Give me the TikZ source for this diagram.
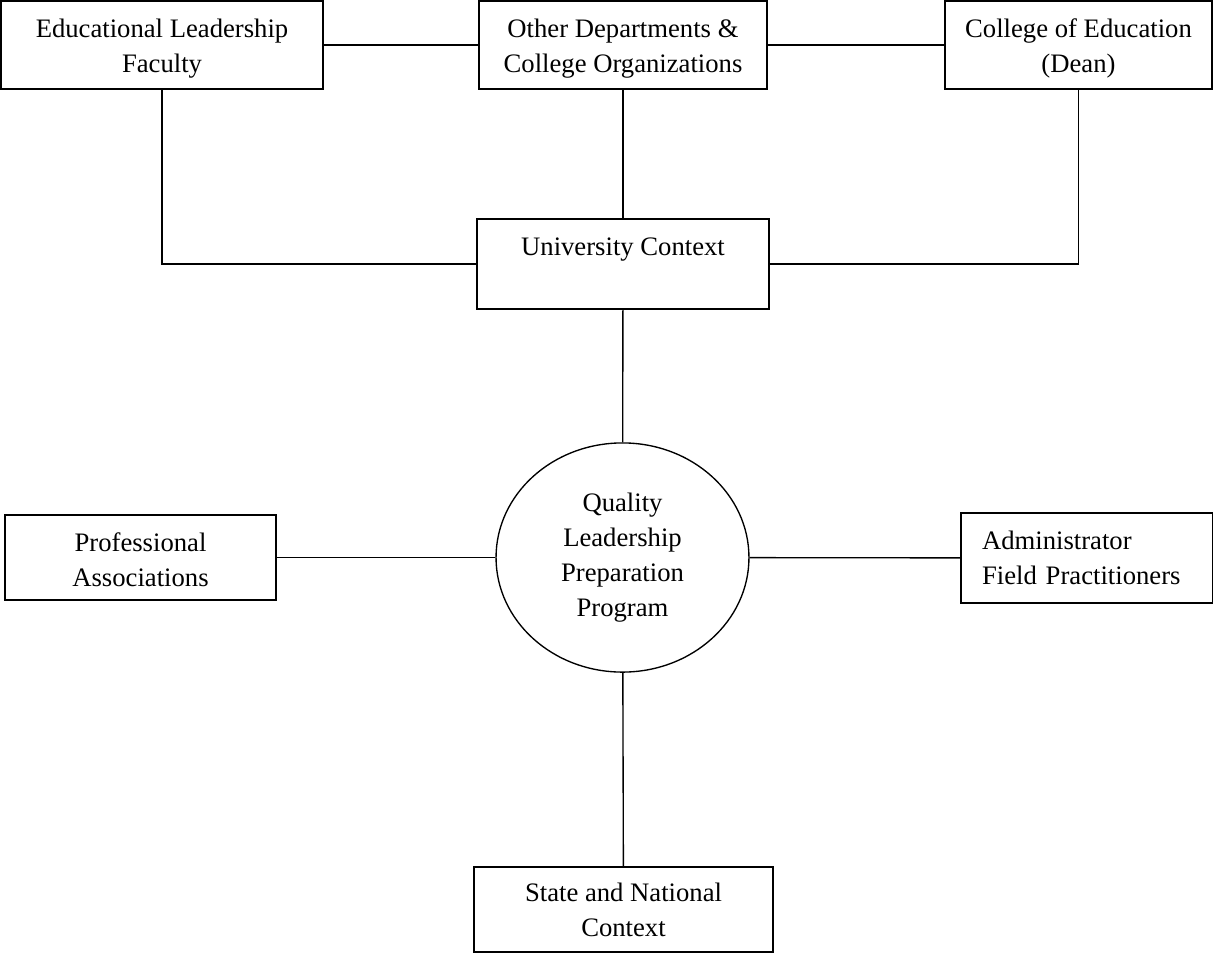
\documentclass[tikz,border=0pt]{standalone}
\usepackage{fontspec}
\setmainfont{Liberation Serif}
\usetikzlibrary{shapes.geometric}
\usetikzlibrary{positioning}

\begin{document}
\begin{tikzpicture}[x=0.48pt,y=-0.48pt,
		box/.style={draw, line width=0.65pt, inner sep=0pt, align=center, font=\fontsize{12.8}{16.8}\selectfont},
		link/.style={line width=0.65pt}]
				\useasboundingbox (0,0) rectangle (1213,953);
				% draw top row
				\node[box, minimum width=154.6pt, minimum height=42.2pt] (faculty) at (162,45) {\rule{0pt}{12.5pt}Educational Leadership\\Faculty};
				\node[box, minimum width=138.2pt, minimum height=42.2pt] (depts) at (623,45) {\rule{0pt}{12.5pt}Other Departments \&\\College Organizations};
				\node[box, minimum width=128.2pt, minimum height=42.2pt] (dean) at (1078.5,45) {\rule{0pt}{12.5pt}College of Education\\(Dean)};
				% university
				\node[box, minimum width=140.2pt, minimum height=43.2pt] (univ) at (623,264) {University Context\\\mbox{}};
				% program in the middle
				\node[box, ellipse, minimum width=121.4pt, minimum height=110pt] (program) at (622.5,557.5) {Quality\\Leadership\\Preparation\\Program};
				\node[box, minimum width=130pt, minimum height=40.8pt] (assoc) at (140.5,557.5) {\rule{0pt}{11pt}Professional\\Associations};
				\node[box, align=left, text width=100.8pt, inner xsep=10.1pt, minimum height=43.2pt] (field) at (1087,558) {Administrator\\Field Practitioners};
				\node[box, minimum width=143.5pt, minimum height=40.8pt] (state) at (623.5,909.5) {State and National\\Context};
				
				% draw lines
				\draw[link] (faculty) -- (depts);
				\draw[link] (depts) -- (dean);
				\draw[link] (faculty.south) |- (univ.west);
				\draw[link] (depts) -- (univ);
				\draw[link] (dean.south) |- (univ.east);
				\draw[link] (univ) -- (program);
				\draw[link] (assoc) -- (program);
				\draw[link] (program) -- (field);
				\draw[link] (program) -- (state);
			\end{tikzpicture}
\end{document}
